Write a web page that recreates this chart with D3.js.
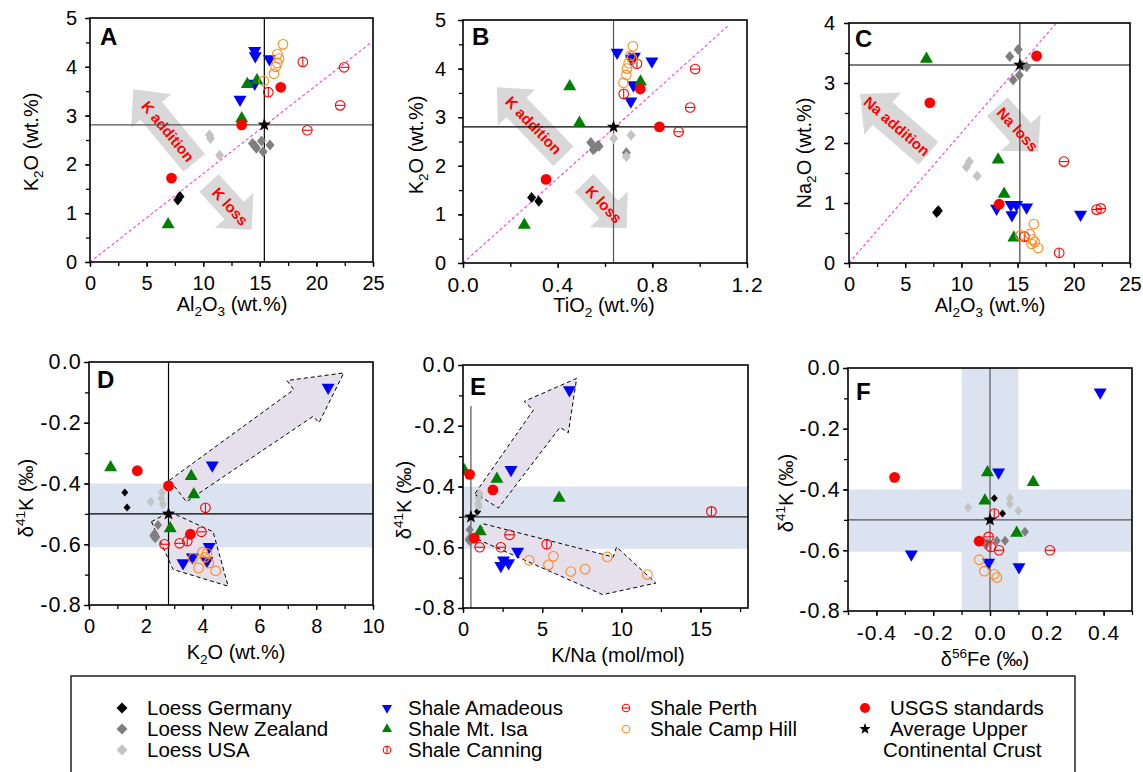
<!DOCTYPE html>
<html><head><meta charset="utf-8">
<script src="https://cdn.jsdelivr.net/npm/d3@7"></script>
<style>
body{margin:0;background:#fff;}
svg{font-family:"Liberation Sans",Arial,Helvetica,sans-serif;}
</style></head>
<body><svg id="c" width="1143" height="772"></svg>
<script>
// ---------- categories ----------
const seriesKeys = ["germany","nz","usa","amadeus","mtisa","canning","perth","campHill","usgs","ucc"];
const seriesNames = ["Loess Germany","Loess New Zealand","Loess USA","Shale Amadeous","Shale Mt. Isa","Shale Canning","Shale Perth","Shale Camp Hill","USGS standards","Average Upper Continental Crust"];

// ---------- panel A: Al2O3 vs K2O ----------
const dataA = {
  germany:[[7.75,1.27],[7.95,1.34]],
  nz:[[14.35,2.43],[14.7,2.33],[15.15,2.48],[15.3,2.26],[15.9,2.40],[14.6,2.37]],
  usa:[[10.55,2.60],[10.65,2.53],[11.45,2.19]],
  amadeus:[[14.55,4.33],[14.6,4.22],[15.85,4.16],[14.55,3.66],[13.25,3.33]],
  mtisa:[[13.9,3.64],[14.75,3.72],[13.4,2.94],[6.9,0.77]],
  canning:[[18.8,4.10],[15.75,3.48]],
  perth:[[22.45,3.99],[22.1,3.21],[19.2,2.70]],
  campHill:[[17.05,4.46],[16.55,4.26],[16.7,4.17],[16.55,4.08],[16.4,4.0],[16.25,3.86],[15.35,3.71]],
  usgs:[[16.85,3.58],[13.4,2.81],[7.2,1.72]],
  ucc:[[15.4,2.81]]
};
// ---------- panel B: TiO2 vs K2O ----------
const dataB = {
  germany:[[0.29,1.35],[0.32,1.27]],
  nz:[[0.54,2.48],[0.55,2.33],[0.57,2.42],[0.56,2.37],[0.575,2.40],[0.69,2.27]],
  usa:[[0.637,2.56],[0.71,2.63],[0.69,2.19]],
  amadeus:[[0.651,4.33],[0.724,4.25],[0.71,4.21],[0.798,4.15],[0.72,3.66],[0.709,3.33]],
  mtisa:[[0.451,3.63],[0.492,2.88],[0.259,0.78],[0.75,3.73]],
  canning:[[0.735,4.10],[0.679,3.48]],
  perth:[[0.981,3.99],[0.96,3.20],[0.911,2.70]],
  campHill:[[0.718,4.46],[0.707,4.26],[0.714,4.21],[0.70,4.11],[0.693,4.0],[0.69,3.87],[0.678,3.71]],
  usgs:[[0.749,3.58],[0.83,2.80],[0.351,1.72]],
  ucc:[[0.636,2.80]]
};
// ---------- panel C: Al2O3 vs Na2O ----------
const dataC = {
  germany:[[7.8,0.84],[7.95,0.87]],
  nz:[[14.3,3.44],[15.05,3.56],[14.6,3.05],[15.15,3.13],[15.8,3.27],[15.3,3.30]],
  usa:[[10.7,1.69],[10.45,1.60],[11.4,1.45]],
  amadeus:[[13.13,0.91],[14.4,0.97],[14.9,0.97],[14.5,0.80],[15.8,0.93],[20.6,0.81]],
  mtisa:[[6.89,3.40],[13.27,1.72],[13.8,1.15],[14.67,0.42]],
  canning:[[18.7,0.17],[15.6,0.44]],
  perth:[[19.12,1.69],[22.03,0.89],[22.4,0.91]],
  campHill:[[16.45,0.65],[16.09,0.48],[16.33,0.39],[16.54,0.35],[16.83,0.25],[16.24,0.32],[15.26,0.46]],
  usgs:[[16.69,3.45],[7.19,2.67],[13.36,0.98]],
  ucc:[[15.2,3.30]]
};
// ---------- panel D: K2O vs d41K ----------
const dataD = {
  germany:[[1.26,-0.43],[1.34,-0.479]],
  nz:[[2.43,-0.537],[2.31,-0.565],[2.37,-0.575],[2.33,-0.58],[2.26,-0.572]],
  usa:[[2.17,-0.46],[2.57,-0.43],[2.55,-0.449],[2.6,-0.468]],
  amadeus:[[8.42,-0.084],[4.34,-0.34],[3.31,-0.662],[3.64,-0.643],[4.23,-0.608],[4.15,-0.655]],
  mtisa:[[0.76,-0.347],[3.6,-0.376],[3.69,-0.436],[2.86,-0.548]],
  canning:[[4.1,-0.48],[3.46,-0.59]],
  perth:[[3.96,-0.559],[3.19,-0.597],[2.66,-0.60]],
  campHill:[[4.0,-0.626],[4.16,-0.63],[3.67,-0.646],[4.08,-0.643],[3.86,-0.678],[4.22,-0.662],[4.46,-0.687]],
  usgs:[[1.7,-0.358],[2.8,-0.408],[3.57,-0.567]],
  ucc:[[2.8,-0.50]]
};
// ---------- panel E: K/Na vs d41K ----------
const dataE = {
  germany:[[1.0,-0.43],[0.92,-0.482]],
  nz:[[0.42,-0.542],[0.36,-0.575],[0.40,-0.57],[0.45,-0.58]],
  usa:[[1.05,-0.424],[0.99,-0.44],[0.95,-0.457],[1.01,-0.466]],
  amadeus:[[6.72,-0.082],[3.03,-0.345],[3.45,-0.614],[2.39,-0.661],[2.88,-0.652],[2.56,-0.643]],
  mtisa:[[0.08,-0.347],[2.14,-0.375],[6.07,-0.438],[1.09,-0.548]],
  canning:[[15.69,-0.482],[5.29,-0.59]],
  perth:[[1.05,-0.60],[2.39,-0.60],[2.94,-0.559]],
  campHill:[[4.18,-0.643],[5.4,-0.658],[5.71,-0.63],[6.81,-0.68],[7.71,-0.672],[9.12,-0.632],[11.64,-0.69]],
  usgs:[[0.42,-0.36],[1.89,-0.411],[0.71,-0.57]],
  ucc:[[0.5,-0.50]]
};
// ---------- panel F: d56Fe vs d41K ----------
const dataF = {
  germany:[[0.015,-0.429],[0.044,-0.479]],
  nz:[[-0.015,-0.583],[0.024,-0.569],[0.053,-0.569],[0.123,-0.539],[-0.01,-0.575]],
  usa:[[-0.077,-0.459],[0.07,-0.429],[0.07,-0.448],[0.10,-0.47]],
  amadeus:[[0.388,-0.08],[0.03,-0.343],[-0.277,-0.613],[-0.005,-0.64],[0.102,-0.655]],
  mtisa:[[-0.009,-0.344],[0.152,-0.376],[-0.018,-0.437],[0.094,-0.543]],
  canning:[[0.015,-0.479],[0.003,-0.589]],
  perth:[[-0.005,-0.556],[0.032,-0.60],[0.211,-0.60]],
  campHill:[[-0.038,-0.631],[-0.02,-0.669],[0.015,-0.679],[0.024,-0.69]],
  usgs:[[-0.336,-0.36],[-0.038,-0.57]],
  ucc:[[0,-0.50]]
};

// ---------- tick labels ----------
const xTicksA = [0,5,10,15,20,25], yTicksA = [0,1,2,3,4,5];
const xTicksB = [0,0.4,0.8,1.2];
const yTicksC = [0,1,2,3,4];
const xTicksD = [0,2,4,6,8,10];
const xTicksE = [0,5,10,15];
const xTicksF = [-0.4,-0.2,0,0.2,0.4];
const yTicksK = [0,-0.2,-0.4,-0.6,-0.8];

// ---------- annotations (data units) ----------
const grayArrowsA = [{tail:[9.21,2.03],tip:[3.83,3.54],bw:28,hw:52,hl:28,t:0.43,label:"K addition"},
                     {tail:[10.51,1.62],tip:[14.28,0.66],bw:26,hw:52,hl:26,t:0.5,label:"K loss"}];
const grayArrowsB = [{tail:[0.4246,2.198],tip:[0.1436,3.615],bw:28,hw:52,hl:28,t:0.45,label:"K addition"},
                     {tail:[0.5113,1.646],tip:[0.6915,0.714],bw:26,hw:52,hl:26,t:0.47,label:"K loss"}];
const grayArrowsC = [{tail:[7.06,1.828],tip:[0.979,2.817],bw:30,hw:56,hl:30,t:0.46,label:"Na addition"},
                     {tail:[13.19,2.605],tip:[16.84,1.855],bw:28,hw:54,hl:26,t:0.5,label:"Na loss"}];
const dashArrowsD = [
  [[2.84,-0.389],[7.21,-0.091],[6.97,-0.061],[8.97,-0.036],[8.10,-0.200],[7.89,-0.179],[3.43,-0.460]],
  [[2.20,-0.526],[2.84,-0.493],[4.37,-0.559],[4.90,-0.738],[2.96,-0.683]]
];
const dashArrowsE = [
  [[0.775,-0.422],[4.45,-0.148],[3.86,-0.120],[7.18,-0.044],[6.65,-0.223],[6.13,-0.205],[2.24,-0.471]],
  [[1.30,-0.523],[9.49,-0.632],[9.70,-0.599],[12.18,-0.718],[8.82,-0.756],[0.88,-0.573]]
];
const diagA = [[0,0],[24.85,4.5]], diagB = [[0,0],[1.12,4.88]], diagC = [[0,0],[18.45,4.0]];

// ---------- styles ----------
const BAND = "#dae3ef";
const styles = {
  germany:{shape:"diamond",fill:"#000"},
  nz:{shape:"diamond",fill:"#7f7f7f"},
  usa:{shape:"diamond",fill:"#c3c3c3"},
  amadeus:{shape:"triDown",fill:"#0000ff"},
  mtisa:{shape:"triUp",fill:"#008000"},
  canning:{shape:"circV",stroke:"#ff0000"},
  perth:{shape:"circH",stroke:"#ff0000"},
  campHill:{shape:"circ",stroke:"#ff8a1c"},
  usgs:{shape:"dot",fill:"#ff0000"},
  ucc:{shape:"star",fill:"#000"}
};

const svg = d3.select("#c");
const fmtInt = d => d3.format("d")(d);
const fmt1 = d => (Math.abs(d)<1e-9?0:d).toFixed(1);

function starPath(R,r){
  let p=[];
  for(let i=0;i<10;i++){const a=-Math.PI/2+i*Math.PI/5;const rr=i%2?r:R;p.push([rr*Math.cos(a),rr*Math.sin(a)]);}
  return "M"+p.map(q=>q.join(",")).join("L")+"Z";
}
function drawSymbol(g,shape,st,cx,cy,sc){
  sc=sc||{};
  const dw = sc.dw||4.5, dh = sc.dh||5.5, ts = sc.ts||13, r = sc.r||4.8, rd = sc.rd||5.4;
  if(shape==="diamond"){
    g.append("path").attr("d",`M${cx},${cy-dh}L${cx+dw},${cy}L${cx},${cy+dh}L${cx-dw},${cy}Z`).attr("fill",st.fill);
  } else if(shape==="triUp"||shape==="triDown"){
    const h=ts*0.866, s=shape==="triUp"?1:-1;
    g.append("path").attr("d",`M${cx},${cy-s*2*h/3}L${cx+ts/2},${cy+s*h/3}L${cx-ts/2},${cy+s*h/3}Z`).attr("fill",st.fill);
  } else if(shape==="dot"){
    g.append("circle").attr("cx",cx).attr("cy",cy).attr("r",rd).attr("fill",st.fill);
  } else if(shape==="star"){
    g.append("path").attr("d",starPath(sc.sR||7,sc.sr||2.8)).attr("transform",`translate(${cx},${cy})`).attr("fill",st.fill);
  } else {
    g.append("circle").attr("cx",cx).attr("cy",cy).attr("r",r).attr("fill","none").attr("stroke",st.stroke).attr("stroke-width",1.1);
    if(shape==="circV") g.append("line").attr("x1",cx).attr("x2",cx).attr("y1",cy-r).attr("y2",cy+r).attr("stroke",st.stroke).attr("stroke-width",1.1);
    if(shape==="circH") g.append("line").attr("x1",cx-r).attr("x2",cx+r).attr("y1",cy).attr("y2",cy).attr("stroke",st.stroke).attr("stroke-width",1.1);
  }
}
function rich(g,x,y,parts,fs,opts){
  opts=opts||{};
  const t=g.append("text").attr("x",x).attr("y",y).attr("font-size",fs).attr("text-anchor",opts.anchor||"middle").attr("fill","#000");
  if(opts.rotate) t.attr("transform",`rotate(${opts.rotate},${x},${y})`);
  const sfs=fs*0.68;
  parts.forEach(([s,m])=>{
    const sp=t.append("tspan").text(s);
    if(m==="sub"){sp.attr("font-size",sfs).attr("dy",fs*0.25);}
    else if(m==="sup"){sp.attr("font-size",sfs).attr("dy",-fs*0.4);}
    else if(m==="fromSub"){sp.attr("dy",-fs*0.25);}
    else if(m==="fromSup"){sp.attr("dy",fs*0.4);}
  });
  return t;
}
function fatArrow(p0,p1,bw,hw,hl){
  const dx=p1[0]-p0[0], dy=p1[1]-p0[1], L=Math.hypot(dx,dy), ux=dx/L, uy=dy/L, nx=-uy, ny=ux;
  const bx=p1[0]-ux*hl, by=p1[1]-uy*hl;
  const pts=[[p0[0]+nx*bw/2,p0[1]+ny*bw/2],[bx+nx*bw/2,by+ny*bw/2],[bx+nx*hw/2,by+ny*hw/2],p1,
             [bx-nx*hw/2,by-ny*hw/2],[bx-nx*bw/2,by-ny*bw/2],[p0[0]-nx*bw/2,p0[1]-ny*bw/2]];
  return pts;
}

const panels = [
  {id:"A",box:[90,18,373,262],xd:[0,25],yd:[0,5],data:dataA,xTicks:xTicksA,yTicks:yTicksA,xMin:2.5,yMin:0.5,xFmt:fmtInt,yFmt:fmtInt,yPad:8,
   vLine:{v:15.4,c:"#000"},hLine:{v:2.81,c:"#555"},diag:diagA,gray:grayArrowsA,
   xTitle:[["Al"],["2","sub"],["O","fromSub"],["3","sub"],[" (wt.%)","fromSub"]],xT:[232,311],
   yTitle:[["K"],["2","sub"],["O (wt.%)","fromSub"]],yT:[38,142],letter:[100,45]},
  {id:"B",box:[463,20,747,263],xd:[0,1.2],yd:[0,5],data:dataB,xTicks:xTicksB,yTicks:yTicksA,xMin:0.2,yMin:0.5,xFmt:fmt1,yFmt:fmtInt,yPad:12,
   vLine:{v:0.636,c:"#555"},hLine:{v:2.80,c:"#000"},diag:diagB,gray:grayArrowsB,
   xTitle:[["TiO"],["2","sub"],[" (wt.%)","fromSub"]],xT:[604,312],
   yTitle:[["K"],["2","sub"],["O (wt.%)","fromSub"]],yT:[423,145],letter:[472,45]},
  {id:"C",box:[849,23,1130,263],xd:[0,25],yd:[0,4],data:dataC,xTicks:xTicksA,yTicks:yTicksC,xMin:2.5,yMin:0.5,xFmt:fmtInt,yFmt:fmtInt,yPad:9,
   vLine:{v:15.2,c:"#444"},hLine:{v:3.30,c:"#000"},diag:diagC,gray:grayArrowsC,
   xTitle:[["Al"],["2","sub"],["O","fromSub"],["3","sub"],[" (wt.%)","fromSub"]],xT:[990,312],
   yTitle:[["Na"],["2","sub"],["O (wt.%)","fromSub"]],yT:[811,153],letter:[855,47]},
  {id:"D",box:[89,362,373,605],xd:[0,10],yd:[-0.8,0],data:dataD,xTicks:xTicksD,yTicks:yTicksK,xMin:1,yMin:0.1,xFmt:fmtInt,yFmt:fmt1,yPad:2,
   hBands:[[-0.61,-0.40]],vLine:{v:2.8,c:"#000"},hLine:{v:-0.50,c:"#000"},dashed:dashArrowsD,
   xTitle:[["K"],["2","sub"],["O (wt.%)","fromSub"]],xT:[236,659],
   yTitle:[["δ"],["41","sup"],["K (‰)","fromSup"]],yT:[33,498],letter:[97,388]},
  {id:"E",box:[463,365,748,608],xd:[0,18],yd:[-0.8,0],data:dataE,xTicks:xTicksE,yTicks:yTicksK,xMin:2.5,yMin:0.1,xFmt:fmtInt,yFmt:fmt1,yPad:2,
   hBands:[[-0.605,-0.40]],vLine:{v:0.5,c:"#555",to:-0.135},hLine:{v:-0.50,c:"#222"},dashed:dashArrowsE,
   xTitle:[["K/Na (mol/mol)"]],xT:[618,662],
   yTitle:[["δ"],["41","sup"],["K (‰)","fromSup"]],yT:[411,500],letter:[470,395]},
  {id:"F",box:[848,368,1132,611],xd:[-0.5,0.5],yd:[-0.8,0],data:dataF,xTicks:xTicksF,yTicks:yTicksK,xMin:0.1,yMin:0.1,xFmt:fmt1,yFmt:fmt1,yPad:2,
   hBands:[[-0.605,-0.40]],vBands:[[-0.1,0.1]],vLine:{v:0,c:"#555"},hLine:{v:-0.50,c:"#555"},
   xTitle:[["δ"],["56","sup"],["Fe (‰)","fromSup"]],xT:[985,666],
   yTitle:[["δ"],["41","sup"],["K (‰)","fromSup"]],yT:[793,493],letter:[856,400]}
];

const defs = svg.append("defs");
panels.forEach(p=>{
  const [x0,y0,x1,y1]=p.box;
  const x=d3.scaleLinear().domain(p.xd).range([x0,x1]);
  const y=d3.scaleLinear().domain(p.yd).range([y1,y0]);
  const g=svg.append("g");
  defs.append("clipPath").attr("id","clip"+p.id).append("rect").attr("x",x0).attr("y",y0).attr("width",x1-x0).attr("height",y1-y0);
  const inner=g.append("g").attr("clip-path",`url(#clip${p.id})`);
  (p.hBands||[]).forEach(b=>inner.append("rect").attr("x",x0).attr("width",x1-x0).attr("y",y(b[1])).attr("height",y(b[0])-y(b[1])).attr("fill",BAND));
  (p.vBands||[]).forEach(b=>inner.append("rect").attr("y",y0).attr("height",y1-y0).attr("x",x(b[0])).attr("width",x(b[1])-x(b[0])).attr("fill",BAND));
  (p.gray||[]).forEach(a=>{
    const t0=[x(a.tail[0]),y(a.tail[1])], t1=[x(a.tip[0]),y(a.tip[1])];
    inner.append("polygon").attr("points",fatArrow(t0,t1,a.bw,a.hw,a.hl).map(q=>q.join(",")).join(" ")).attr("fill","#d8d8d8");
    const cx=t0[0]+(t1[0]-t0[0])*a.t, cy=t0[1]+(t1[1]-t0[1])*a.t;
    let ang=Math.atan2(t1[1]-t0[1],t1[0]-t0[0])*180/Math.PI;
    if(ang>90) ang-=180; if(ang<-90) ang+=180;
    inner.append("text").attr("x",cx).attr("y",cy).attr("transform",`rotate(${ang},${cx},${cy})`)
      .attr("text-anchor","middle").attr("dominant-baseline","central").attr("font-size",15).attr("font-weight","bold")
      .attr("fill","#ff0000").text(a.label);
  });
  (p.dashed||[]).forEach(poly=>{
    inner.append("polygon").attr("points",poly.map(q=>x(q[0])+","+y(q[1])).join(" "))
      .attr("fill","#e6e0ed").attr("stroke","#000").attr("stroke-width",1).attr("stroke-dasharray","4,3");
  });
  if(p.diag){
    inner.append("line").attr("x1",x(p.diag[0][0])).attr("y1",y(p.diag[0][1])).attr("x2",x(p.diag[1][0])).attr("y2",y(p.diag[1][1]))
      .attr("stroke","#ff3ad0").attr("stroke-width",1.1).attr("stroke-dasharray","3,2.5");
  }
  if(p.hLine) inner.append("line").attr("x1",x0).attr("x2",x1).attr("y1",y(p.hLine.v)).attr("y2",y(p.hLine.v)).attr("stroke",p.hLine.c).attr("stroke-width",1.2);
  if(p.vLine) inner.append("line").attr("x1",x(p.vLine.v)).attr("x2",x(p.vLine.v)).attr("y1",y1).attr("y2",p.vLine.to!==undefined?y(p.vLine.to):y0).attr("stroke",p.vLine.c).attr("stroke-width",1.2);
  const top = p.id<"D";
  const sc = top?{dw:4.5,dh:5.5,ts:13,r:4.8,rd:5.4}:{dw:4,dh:5,ts:13,r:4.8,rd:5.4};
  seriesKeys.forEach(k=>{
    const st=styles[k];
    (p.data[k]||[]).forEach(d=>{
      let s=sc;
      if(k==="germany"&&!top) s=Object.assign({},sc,{dw:3.5,dh:4});
      drawSymbol(inner,st.shape,st,x(d[0]),y(d[1]),s);
    });
  });
  g.append("rect").attr("x",x0).attr("y",y0).attr("width",x1-x0).attr("height",y1-y0).attr("fill","none").attr("stroke","#000").attr("stroke-width",1.6);
  const xMinor=d3.range(p.xd[0],p.xd[1]+1e-9,p.xMin), yMinor=d3.range(p.yd[0],p.yd[1]+1e-9,p.yMin);
  const styleAx=(fs,ls)=>a=>{a.select(".domain").remove();a.selectAll("line").attr("stroke","#000").attr("stroke-width",1.3);
    a.selectAll("text").attr("font-size",fs).attr("fill","#000").attr("letter-spacing",ls).attr("font-family","Liberation Sans, Arial, sans-serif");};
  const xDec = p.xFmt===fmt1, yDec = p.yFmt===fmt1;
  g.append("g").attr("transform",`translate(0,${y1})`).call(d3.axisBottom(x).tickValues(xMinor).tickFormat("").tickSize(4).tickSizeOuter(0)).call(styleAx(20,0));
  g.append("g").attr("transform",`translate(${x0},0)`).call(d3.axisLeft(y).tickValues(yMinor).tickFormat("").tickSize(4).tickSizeOuter(0)).call(styleAx(20,0));
  g.append("g").attr("transform",`translate(0,${y1})`).call(d3.axisBottom(x).tickValues(p.xTicks).tickFormat(p.xFmt).tickSize(5).tickPadding(9).tickSizeOuter(0)).call(styleAx(xDec?21:20,xDec?1:0));
  g.append("g").attr("transform",`translate(${x0},0)`).call(d3.axisLeft(y).tickValues(p.yTicks).tickFormat(p.yFmt).tickSize(5).tickPadding(p.yPad).tickSizeOuter(0)).call(styleAx(yDec?21.5:20,yDec?1.2:0));
  rich(g,p.xT[0],p.xT[1],p.xTitle,20);
  rich(g,p.yT[0],p.yT[1],p.yTitle,20,{rotate:-90});
  g.append("text").attr("x",p.letter[0]).attr("y",p.letter[1]).attr("font-size",24).attr("font-weight","bold").text(p.id);
});

// ---------- legend ----------
const lg=svg.append("g");
lg.append("rect").attr("x",71).attr("y",676).attr("width",1004).attr("height",130).attr("fill","none").attr("stroke","#222").attr("stroke-width",1.5);
const legCols=[[122,147],[387,408],[626,650],[865,890]];
const legPos={germany:[0,0],nz:[0,1],usa:[0,2],amadeus:[1,0],mtisa:[1,1],canning:[1,2],perth:[2,0],campHill:[2,1],usgs:[3,0],ucc:[3,1]};
const rowY=[708,729,750];
const legSc={dw:5.5,dh:5.5,ts:10,r:3.8,rd:5,sR:6,sr:2.4};
seriesKeys.forEach((k,i)=>{
  const [c,r]=legPos[k];
  drawSymbol(lg,styles[k].shape,styles[k],legCols[c][0],rowY[r],legSc);
  if(k==="ucc"){
    lg.append("text").attr("x",legCols[c][1]).attr("y",rowY[r]+7).attr("font-size",20.5).text("Average Upper");
    lg.append("text").attr("x",883).attr("y",rowY[r+1]+7).attr("font-size",20.5).text("Continental Crust");
  } else {
    lg.append("text").attr("x",legCols[c][1]).attr("y",rowY[r]+7).attr("font-size",20.5).text(seriesNames[i]);
  }
});
</script></body></html>
